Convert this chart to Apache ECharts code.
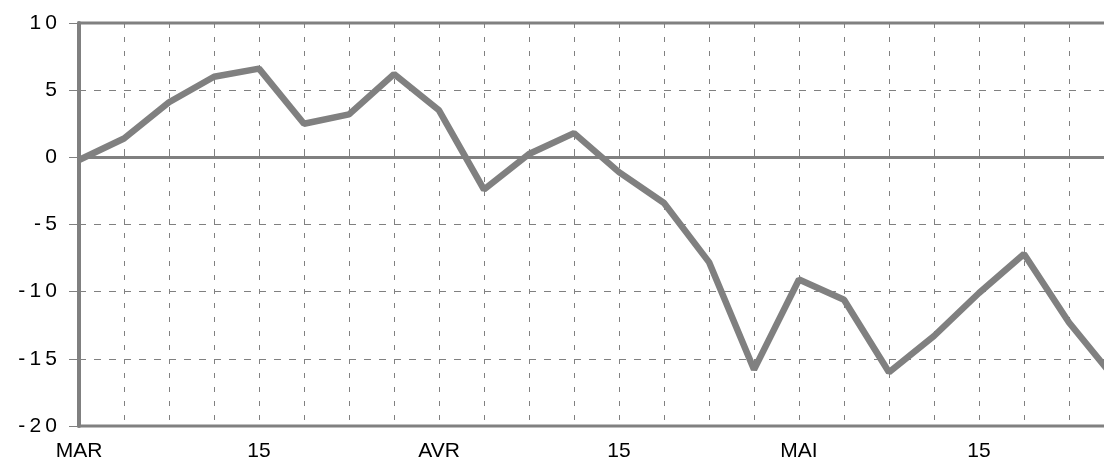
<!DOCTYPE html>
<html>
<head>
<meta charset="utf-8">
<script src="https://cdn.jsdelivr.net/npm/echarts@6/dist/echarts.min.js"></script>
<style>
html,body{margin:0;padding:0;background:#fff;}
#chart{width:1104px;height:464px;}
</style>
</head>
<body>
<div id="chart"></div>
<script>
// categories (one point every few days, labels every 4 points)
var categories = ['MAR','','','','15','','','','AVR','','','','15','','','','MAI','','','','15','','',''];
// series values
var values = [-0.2, 1.4, 4.1, 6.0, 6.6, 2.5, 3.2, 6.2, 3.5, -2.4, 0.25, 1.8,
              -1.1, -3.4, -7.8, -15.8, -9.1, -10.6, -16.0, -13.3, -10.1, -7.2, -12.3, -16.4];
// y tick values
var yMin = -20, yMax = 10, yStep = 5;

var grey = '#808080';

function spaced(v){
  return String(v).split('').join('\u2009');
}

var chart = echarts.init(document.getElementById('chart'));
chart.setOption({
  animation: false,
  backgroundColor: '#fff',
  grid: {
    left: 79, right: -10, top: 23, bottom: 38,
    outerBoundsMode: 'none',
    containLabel: false,
    show: true, borderColor: grey, borderWidth: 3, backgroundColor: 'transparent'
  },
  xAxis: {
    type: 'category',
    data: categories,
    boundaryGap: false,
    axisLine: {lineStyle: {color: grey, width: 3}},
    axisTick: {show: true, inside: true, length: 4, interval: 0, lineStyle: {color: grey, width: 1}},
    axisLabel: {
      interval: 0, margin: 15, color: '#000',
      fontFamily: 'Liberation Sans', fontSize: 21
    },
    splitLine: {show: true, interval: 0, lineStyle: {color: grey, width: 1, type: [5, 9]}}
  },
  yAxis: {
    type: 'value',
    min: yMin, max: yMax, interval: yStep,
    axisLine: {show: true, lineStyle: {color: grey, width: 4}},
    axisTick: {show: true, length: 10, lineStyle: {color: grey, width: 1}},
    axisLabel: {
      margin: 22, color: '#000',
      fontFamily: 'Liberation Sans', fontSize: 21,
      formatter: function(v){ return spaced(v); }
    },
    splitLine: {show: true, lineStyle: {color: grey, width: 1, type: [7, 8]}}
  },
  series: [{
    type: 'line',
    data: values,
    symbol: 'none',
    clip: false,
    lineStyle: {color: grey, width: 6.5},
    markLine: {
      silent: true,
      symbol: 'none',
      label: {show: false},
      lineStyle: {color: grey, width: 1.5, type: 'solid'},
      data: [{yAxis: 0}]
    },
    z: 3
  }]
});
</script>
</body>
</html>
